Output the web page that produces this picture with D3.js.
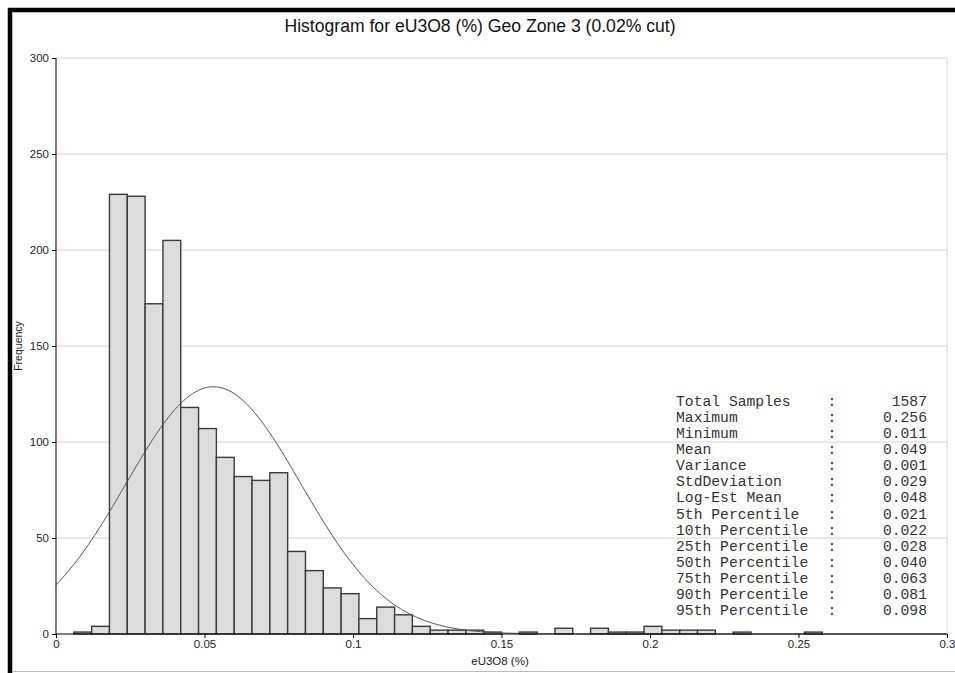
<!DOCTYPE html>
<html>
<head>
    <title></title>
    <meta charset="utf-8">
    <style>
        body { margin: 0; background: #fff; }
    </style>
</head>
<body>
<script src="https://d3js.org/d3.v7.min.js"></script>
<script>
    // histogram bins (lower edge, width 0.006) and counts
    var binWidth = 0.006;
    var binStarts = [0.006, 0.012, 0.018, 0.024, 0.030, 0.036, 0.042, 0.048, 0.054, 0.060,
        0.066, 0.072, 0.078, 0.084, 0.090, 0.096, 0.102, 0.108, 0.114, 0.120,
        0.126, 0.132, 0.138, 0.144, 0.156, 0.168, 0.180, 0.186, 0.192, 0.198,
        0.204, 0.210, 0.216, 0.228, 0.252];
    var counts = [1, 4, 229, 228, 172, 205, 118, 107, 92, 82,
        80, 84, 43, 33, 24, 21, 8, 14, 10, 4,
        2, 2, 2, 1, 1, 3, 3, 1, 1, 4,
        2, 2, 2, 1, 1];

    var xTicks = [0, 0.05, 0.1, 0.15, 0.2, 0.25, 0.3];
    var xTickLabels = ['0', '0.05', '0.1', '0.15', '0.2', '0.25', '0.3'];
    var yTicks = [0, 50, 100, 150, 200, 250, 300];

    // fitted normal curve parameters
    var totalSamples = 1587;
    var curveMean = 0.053;
    var curveStd = 0.0295;

    var statLabels = ['Total Samples', 'Maximum', 'Minimum', 'Mean', 'Variance', 'StdDeviation',
        'Log-Est Mean', '5th Percentile', '10th Percentile', '25th Percentile',
        '50th Percentile', '75th Percentile', '90th Percentile', '95th Percentile'];
    var statValues = ['1587', '0.256', '0.011', '0.049', '0.001', '0.029', '0.048',
        '0.021', '0.022', '0.028', '0.040', '0.063', '0.081', '0.098'];

    var W = 955, H = 673;
    var plot = { left: 56, right: 947, top: 58, bottom: 634 };

    var svg = d3.select('body').append('svg')
        .attr('width', W)
        .attr('height', H);

    svg.append('rect').attr('width', W).attr('height', H).attr('fill', '#fff');

    var x = d3.scaleLinear().domain([0, 0.3]).range([plot.left, plot.right]);
    var y = d3.scaleLinear().domain([0, 300]).range([plot.bottom, plot.top]);

    // grid
    svg.append('g').selectAll('line').data(yTicks.filter(function (d) { return d > 0; }))
        .enter().append('line')
        .attr('x1', plot.left).attr('x2', plot.right)
        .attr('y1', function (d) { return y(d); }).attr('y2', function (d) { return y(d); })
        .attr('stroke', '#d4d4d4').attr('stroke-width', 1);
    svg.append('line')
        .attr('x1', plot.right).attr('x2', plot.right)
        .attr('y1', plot.top).attr('y2', plot.bottom)
        .attr('stroke', '#d4d4d4').attr('stroke-width', 1);

    // bars
    svg.append('g').selectAll('rect').data(binStarts)
        .enter().append('rect')
        .attr('x', function (d) { return x(d); })
        .attr('y', function (d, i) { return y(counts[i]); })
        .attr('width', function (d) { return x(d + binWidth) - x(d); })
        .attr('height', function (d, i) { return y(0) - y(counts[i]); })
        .attr('fill', '#dcdcdc')
        .attr('stroke', '#3a3a3a')
        .attr('stroke-width', 1.4);

    // normal curve
    var scale = totalSamples * binWidth / (curveStd * Math.sqrt(2 * Math.PI));
    var curveX = d3.range(0, 0.3001, 0.001);
    var line = d3.line()
        .x(function (d) { return x(d); })
        .y(function (d) {
            var z = (d - curveMean) / curveStd;
            return y(scale * Math.exp(-0.5 * z * z));
        });
    svg.append('path').datum(curveX)
        .attr('d', line)
        .attr('fill', 'none')
        .attr('stroke', '#555')
        .attr('stroke-width', 1);

    // axes
    var yAxis = d3.axisLeft(y).tickValues(yTicks).tickSize(4).tickPadding(3);
    var gy = svg.append('g').attr('transform', 'translate(' + plot.left + ',0)').call(yAxis);
    var xAxis = d3.axisBottom(x).tickValues(xTicks).tickSize(4).tickPadding(2)
        .tickFormat(function (d, i) { return xTickLabels[i]; });
    var gx = svg.append('g').attr('transform', 'translate(0,' + plot.bottom + ')').call(xAxis);

    [gx, gy].forEach(function (g) {
        g.selectAll('text')
            .attr('font-family', 'Liberation Sans Narrow, Arial, sans-serif')
            .attr('font-size', 11.5)
            .attr('fill', '#222');
        g.selectAll('line').attr('stroke', '#000');
        g.select('.domain').attr('stroke', '#000');
    });
    gx.select('.domain').attr('d', 'M' + plot.left + ',0H' + plot.right);
    gy.select('.domain').attr('d', 'M0,' + plot.bottom + 'V' + plot.top);

    // title and axis labels
    svg.append('text')
        .attr('x', 480).attr('y', 32)
        .attr('text-anchor', 'middle')
        .attr('font-family', 'Liberation Sans, Arial, sans-serif')
        .attr('font-size', 17.6)
        .attr('fill', '#111')
        .text('Histogram for eU3O8 (%) Geo Zone 3 (0.02% cut)');

    svg.append('text')
        .attr('x', 500).attr('y', 665)
        .attr('text-anchor', 'middle')
        .attr('font-family', 'Liberation Sans Narrow, Arial, sans-serif')
        .attr('font-size', 11.5)
        .attr('fill', '#222')
        .text('eU3O8 (%)');

    svg.append('text')
        .attr('transform', 'translate(22,346) rotate(-90)')
        .attr('text-anchor', 'middle')
        .attr('font-family', 'Liberation Sans Narrow, Arial, sans-serif')
        .attr('font-size', 10.5)
        .attr('fill', '#222')
        .text('Frequency');

    // statistics block
    var stats = svg.append('g')
        .attr('font-family', 'Liberation Mono, Courier New, monospace')
        .attr('font-size', 14.7)
        .attr('fill', '#333');
    statLabels.forEach(function (lab, i) {
        var yy = 406 + i * 16.08;
        stats.append('text').attr('x', 676).attr('y', yy).text(lab);
        stats.append('text').attr('x', 832).attr('y', yy).attr('text-anchor', 'middle').text(':');
        stats.append('text').attr('x', 927).attr('y', yy).attr('text-anchor', 'end').text(statValues[i]);
    });

    // outer frame: thick black left and top, thin grey bottom
    svg.append('line').attr('x1', 10).attr('x2', 10).attr('y1', 8).attr('y2', H)
        .attr('stroke', '#000').attr('stroke-width', 4.5);
    svg.append('line').attr('x1', 8).attr('x2', W).attr('y1', 10).attr('y2', 10)
        .attr('stroke', '#000').attr('stroke-width', 4.5);
    svg.append('line').attr('x1', 12).attr('x2', W).attr('y1', 671.5).attr('y2', 671.5)
        .attr('stroke', '#bbb').attr('stroke-width', 1);
</script>
</body>
</html>
